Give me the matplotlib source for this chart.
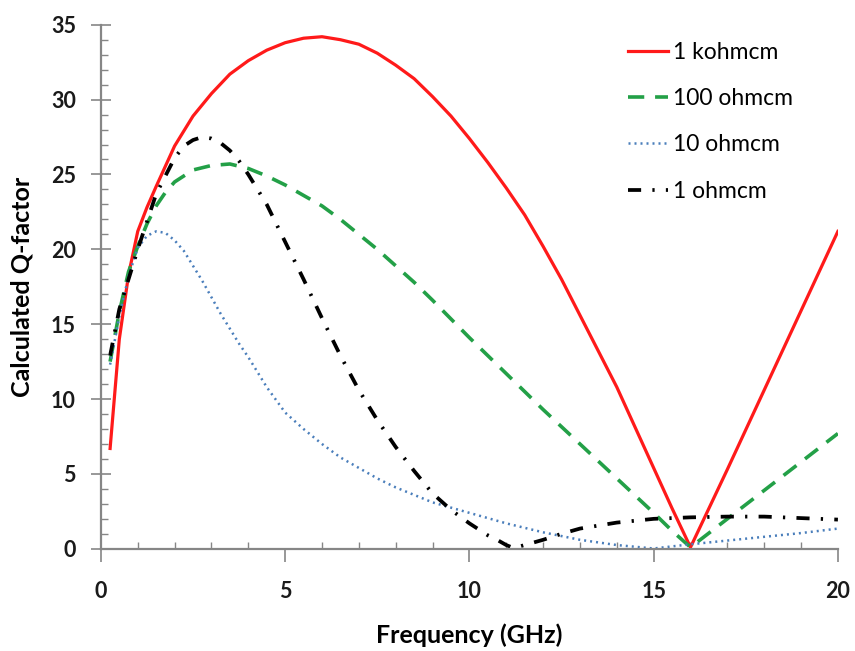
import matplotlib
matplotlib.use("Agg")
import matplotlib.pyplot as plt
from matplotlib.ticker import MultipleLocator

plt.rcParams['font.family'] = ['Lato', 'DejaVu Sans']

# 1 kohmcm
f_1k = [0.25, 0.5, 0.75, 1.0, 1.25, 1.5, 2, 2.5, 3, 3.5, 4, 4.5, 5, 5.5, 6,
        6.5, 7, 7.5, 8, 8.5, 9, 9.5, 10, 10.5, 11, 11.5, 12, 12.5, 13, 13.5,
        14, 14.5, 15, 15.5, 16, 17, 18, 19, 20]
q_1k = [6.7, 14.0, 18.3, 21.2, 22.8, 24.2, 26.9, 28.9, 30.4, 31.7, 32.6, 33.3,
        33.8, 34.1, 34.2, 34.0, 33.7, 33.1, 32.3, 31.4, 30.2, 28.9, 27.4, 25.8,
        24.1, 22.3, 20.2, 18.0, 15.6, 13.2, 10.8, 8.1, 5.4, 2.7, 0.1, 5.3,
        10.6, 15.9, 21.2]

# 100 ohmcm
f_100 = [0.25, 0.5, 0.75, 1, 1.25, 1.5, 1.75, 2, 2.5, 3, 3.5, 4, 4.5, 5, 5.5,
         6, 6.5, 7, 7.5, 8, 8.5, 9, 10, 11, 12, 13, 14, 15, 15.5, 16, 17, 18,
         19, 20]
q_100 = [12.5, 15.8, 18.5, 20.2, 21.7, 22.9, 23.8, 24.5, 25.3, 25.6, 25.7,
         25.4, 24.9, 24.3, 23.6, 22.9, 22.0, 21.0, 20.0, 18.9, 17.8, 16.6,
         14.1, 11.7, 9.3, 7.0, 4.7, 2.4, 1.2, 0.1, 2.0, 3.9, 5.8, 7.7]

# 10 ohmcm
f_10 = [0.25, 0.5, 0.75, 1, 1.25, 1.5, 1.75, 2, 2.25, 2.5, 2.75, 3, 3.25, 3.5,
        3.75, 4, 4.5, 5, 5.5, 6, 6.5, 7, 7.5, 8, 8.5, 9, 10, 11, 12, 13, 14,
        15, 16, 17, 18, 19, 20]
q_10 = [12.3, 15.5, 18.2, 20.1, 20.9, 21.2, 21.1, 20.6, 19.9, 18.9, 17.9,
        16.8, 15.7, 14.7, 13.7, 12.8, 10.8, 9.1, 8.0, 7.0, 6.1, 5.4, 4.7, 4.1,
        3.6, 3.1, 2.4, 1.7, 1.1, 0.6, 0.25, 0.02, 0.3, 0.55, 0.8, 1.05, 1.35]

# 1 ohmcm
f_1 = [0.25, 0.5, 1, 1.5, 2, 2.25, 2.5, 2.75, 3, 3.25, 3.5, 3.75, 4, 4.5, 5,
       5.5, 6, 6.5, 7, 7.5, 8, 8.5, 9, 9.5, 10, 10.5, 10.75, 11, 11.2, 11.5,
       12, 12.5, 13, 14, 15, 16, 17, 18, 19, 20]
q_1 = [12.9, 16.0, 20.0, 23.7, 26.1, 26.9, 27.3, 27.5, 27.4, 27.1, 26.6, 25.9,
       25.0, 23.0, 20.5, 18.0, 15.4, 12.9, 10.6, 8.6, 6.8, 5.2, 3.7, 2.6, 1.7,
       0.9, 0.6, 0.25, 0.05, 0.25, 0.6, 1.0, 1.35, 1.75, 2.0, 2.1, 2.15, 2.15,
       2.05, 1.95]

fig = plt.figure(figsize=(8.55, 6.51), dpi=100)
ax = fig.add_axes([0.118, 0.157, 0.862, 0.805])

ax.plot(f_1k, q_1k, color='#ff1a1a', lw=2.3, label='1 kohmcm')
ax.plot(f_100, q_100, color='#23a047', lw=2.6, ls=(0, (4.5, 3.0)), label='100 ohmcm')
ax.plot(f_10, q_10, color='#4a7ebb', lw=1.8, ls=(0, (0.8, 1.6)), label='10 ohmcm')
ax.plot(f_1, q_1, color='black', lw=2.7, ls=(0, (3.5, 3, 0.6, 3)), label='1 ohmcm')

ax.set_xlim(0, 20)
ax.set_ylim(0, 35)
ax.xaxis.set_major_locator(MultipleLocator(5))
ax.xaxis.set_minor_locator(MultipleLocator(1))
ax.yaxis.set_major_locator(MultipleLocator(5))
ax.yaxis.set_minor_locator(MultipleLocator(1))

for s in ['top', 'right']:
    ax.spines[s].set_visible(False)
for s in ['left', 'bottom']:
    ax.spines[s].set_color('#868686')
    ax.spines[s].set_linewidth(1.6)

ax.tick_params(axis='x', which='major', direction='out', length=9, width=1.2,
               color='#868686', pad=14, labelsize=15.5)
ax.tick_params(axis='x', which='minor', direction='in', length=5, width=1,
               color='#868686')
ax.tick_params(axis='y', which='major', direction='inout', length=14, width=1.2,
               color='#868686', pad=11, labelsize=15.5)
ax.tick_params(axis='y', which='minor', direction='in', length=5, width=1,
               color='#868686')
for lab in ax.get_xticklabels() + ax.get_yticklabels():
    lab.set_fontweight('bold')
    lab.set_color('#1a1a1a')

ax.set_xlabel('Frequency (GHz)', fontsize=18, fontweight='bold')
ax.set_ylabel('Calculated Q-factor', fontsize=18, fontweight='bold')
ax.xaxis.set_label_coords(0.5, -0.142)
ax.yaxis.set_label_coords(-0.092, 0.5)

ax.legend(loc='upper left', bbox_to_anchor=(0.715, 0.967), frameon=False,
          fontsize=16.5, handlelength=1.75, handletextpad=0.2, labelspacing=1.1,
          borderpad=0, borderaxespad=0)

fig.savefig('out.png', dpi=100)
